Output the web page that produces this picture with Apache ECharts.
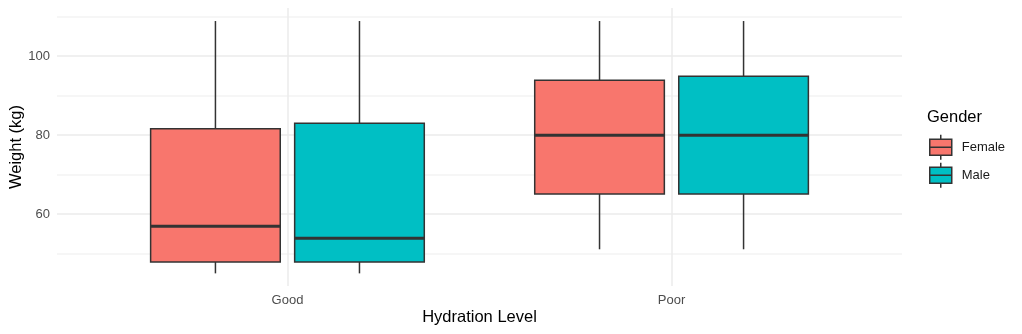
<!DOCTYPE html>
<html>
<head>
<meta charset="utf-8">
<title>Weight by Hydration Level and Gender</title>
<script src="https://cdn.jsdelivr.net/npm/echarts@6/dist/echarts.min.js"></script>
<style>
  html, body { margin: 0; padding: 0; background: #ffffff; }
  #chart { width: 1022px; height: 334px; }
</style>
</head>
<body>
<div id="chart"></div>
<script>
// Hydration level groups on the x axis
const categories = ['Good', 'Poor'];
const genders = ['Female', 'Male'];
// Five-number summaries per group: [min, Q1, median, Q3, max] (kg)
const femaleStats = [
  [45.0, 47.9, 56.9, 81.6, 108.9],
  [51.1, 65.1, 80.0, 93.9, 108.9]
];
const maleStats = [
  [45.0, 47.9, 53.9, 83.0, 108.9],
  [51.1, 65.1, 80.0, 94.9, 108.9]
];
// Axis ticks
const yLabelTicks = [60, 80, 100];
const yGridTicks = [50, 60, 70, 80, 90, 100, 110];

const FONT = '"Liberation Sans", Arial, Helvetica, sans-serif';
const FILL = { Female: '#F8766D', Male: '#00BFC4' };
const EDGE = '#333333';
const EDGE_W = 1.5;
const DODGE = 0.1875;     // centre offset of each gender box within a group
const HALF_W = 0.16875;   // half box width in axis units

function toRows(stats) {
  return stats.map((s, i) => [i + 1].concat(s));
}

function boxRenderer(offset, fill) {
  return function (params, api) {
    const x = api.value(0) + offset;
    const vMin = api.value(1), q1 = api.value(2), med = api.value(3), q3 = api.value(4), vMax = api.value(5);
    const pLow = api.coord([x, vMin]);
    const pHigh = api.coord([x, vMax]);
    const pQ1L = api.coord([x - HALF_W, q1]);
    const pQ3R = api.coord([x + HALF_W, q3]);
    const pMedL = api.coord([x - HALF_W, med]);
    const pMedR = api.coord([x + HALF_W, med]);
    const cx = pLow[0];
    const lineStyle = { stroke: EDGE, lineWidth: EDGE_W, fill: null };
    return {
      type: 'group',
      children: [
        { type: 'line', shape: { x1: cx, y1: pQ3R[1], x2: cx, y2: pHigh[1] }, style: lineStyle },
        { type: 'line', shape: { x1: cx, y1: pQ1L[1], x2: cx, y2: pLow[1] }, style: lineStyle },
        {
          type: 'rect',
          shape: { x: pQ1L[0], y: pQ3R[1], width: pQ3R[0] - pQ1L[0], height: pQ1L[1] - pQ3R[1] },
          style: { fill: fill, stroke: EDGE, lineWidth: EDGE_W }
        },
        { type: 'line', shape: { x1: pMedL[0], y1: pMedL[1], x2: pMedR[0], y2: pMedR[1] },
          style: { stroke: EDGE, lineWidth: 3, fill: null } }
      ]
    };
  };
}

// Legend key: box with median line and whisker stubs
const KEY_ICON = 'path://M0,4.5L22,4.5L22,20.5L0,20.5Z M0,12.5L22,12.5 M11,0L11,4.5 M11,20.5L11,25';

const chart = echarts.init(document.getElementById('chart'), null, { renderer: 'canvas' });

chart.setOption({
  animation: false,
  backgroundColor: '#ffffff',
  textStyle: { fontFamily: FONT },
  title: {
    text: 'Gender',
    left: 927,
    top: 109,
    padding: 0,
    textStyle: { fontFamily: FONT, fontSize: 16.5, fontWeight: 'normal', color: '#000000' }
  },
  legend: {
    orient: 'vertical',
    left: 929,
    top: 134,
    padding: 0,
    itemWidth: 22,
    itemHeight: 25,
    itemGap: 1.6,
    selectedMode: false,
    textStyle: { fontFamily: FONT, fontSize: 13, color: '#1A1A1A', padding: [0, 0, 0, 5] },
    data: genders.map(g => ({
      name: g,
      icon: KEY_ICON,
      itemStyle: { color: FILL[g], borderColor: EDGE, borderWidth: EDGE_W }
    }))
  },
  grid: { left: 57, right: 120, top: 8, bottom: 48, containLabel: false, outerBoundsMode: 'none' },
  xAxis: {
    type: 'value',
    min: 0.4,
    max: 2.6,
    name: 'Hydration Level',
    nameLocation: 'middle',
    nameGap: 23,
    nameMoveOverlap: false,
    nameTextStyle: { fontFamily: FONT, fontSize: 16.5, color: '#000000' },
    axisLine: { show: false },
    axisTick: { show: false, customValues: [1, 2] },
    axisLabel: {
      customValues: [1, 2],
      margin: 8,
      fontFamily: FONT,
      fontSize: 13,
      color: '#4D4D4D',
      formatter: v => categories[Math.round(v) - 1]
    },
    splitLine: { show: true, lineStyle: { color: '#EBEBEB', width: 1.5 } }
  },
  yAxis: {
    type: 'value',
    min: 41.8,
    max: 112.2,
    name: 'Weight (kg)',
    nameLocation: 'middle',
    nameGap: 32,
    nameMoveOverlap: false,
    nameTextStyle: { fontFamily: FONT, fontSize: 16.5, color: '#000000' },
    axisLine: { show: false },
    axisTick: { show: false, customValues: yGridTicks },
    axisLabel: {
      customValues: yLabelTicks,
      margin: 7,
      fontFamily: FONT,
      fontSize: 13,
      color: '#4D4D4D'
    },
    splitLine: { show: true, lineStyle: { color: ['#F3F3F3', '#EBEBEB'], width: 1.5 } }
  },
  series: [
    {
      name: 'Female',
      type: 'custom',
      itemStyle: { color: FILL.Female },
      renderItem: boxRenderer(-DODGE, FILL.Female),
      encode: { x: 0, y: [1, 2, 3, 4, 5] },
      data: toRows(femaleStats)
    },
    {
      name: 'Male',
      type: 'custom',
      itemStyle: { color: FILL.Male },
      renderItem: boxRenderer(DODGE, FILL.Male),
      encode: { x: 0, y: [1, 2, 3, 4, 5] },
      data: toRows(maleStats)
    }
  ]
});
</script>
</body>
</html>
